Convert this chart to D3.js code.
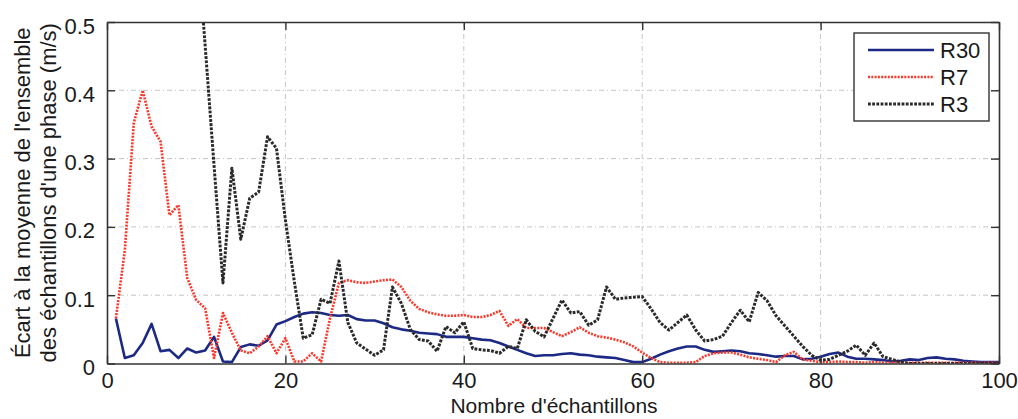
<!DOCTYPE html>
<html>
<head>
<meta charset="utf-8">
<script src="https://cdn.jsdelivr.net/npm/d3@7"></script>
<style>
  html, body { margin: 0; padding: 0; background: #fff; }
  svg { display: block; font-family: "Liberation Sans", Arial, sans-serif; }
</style>
</head>
<body>
<svg id="chart" width="1018" height="419"></svg>
<script>
// ---------- data ----------
const xTicks = [0, 20, 40, 60, 80, 100];
const yTicks = [0, 0.1, 0.2, 0.3, 0.4, 0.5];
const yTickLabels = ["0", "0.1", "0.2", "0.3", "0.4", "0.5"];
const seriesNames = ["R30", "R7", "R3"];

const r30X = d3.range(1, 101);
const r30Y = [
  0.066, 0.008, 0.012, 0.030, 0.058, 0.018, 0.020, 0.008, 0.022, 0.016,
  0.019, 0.039, 0.003, 0.002, 0.024, 0.028, 0.026, 0.034, 0.057, 0.062,
  0.068, 0.073, 0.075, 0.074, 0.071, 0.070, 0.071, 0.065, 0.063, 0.063,
  0.059, 0.053, 0.050, 0.048, 0.045, 0.044, 0.043, 0.039, 0.039, 0.039,
  0.037, 0.035, 0.034, 0.030, 0.025, 0.020, 0.015, 0.011, 0.012, 0.012,
  0.014, 0.015, 0.013, 0.012, 0.010, 0.009, 0.008, 0.005, 0.002, 0.002,
  0.007, 0.013, 0.018, 0.022, 0.025, 0.025, 0.020, 0.017, 0.018, 0.019,
  0.018, 0.015, 0.014, 0.012, 0.010, 0.011, 0.011, 0.006, 0.007, 0.010,
  0.014, 0.016, 0.010, 0.007, 0.007, 0.006, 0.005, 0.003, 0.004, 0.006,
  0.005, 0.008, 0.009, 0.007, 0.006, 0.004, 0.003, 0.002, 0.002, 0.002
];

const r7X = d3.range(1, 101);
const r7Y = [
  0.066, 0.166, 0.352, 0.400, 0.347, 0.325, 0.217, 0.232, 0.125, 0.093,
  0.081, 0.008, 0.074, 0.045, 0.019, 0.015, 0.025, 0.040, 0.015, 0.037,
  0.003, 0.003, 0.015, 0.003, 0.066, 0.118, 0.122, 0.119, 0.118, 0.120,
  0.122, 0.123, 0.112, 0.092, 0.080, 0.075, 0.072, 0.070, 0.070, 0.071,
  0.068, 0.068, 0.071, 0.077, 0.055, 0.065, 0.052, 0.052, 0.052, 0.046,
  0.040, 0.046, 0.053, 0.045, 0.040, 0.038, 0.035, 0.031, 0.025, 0.016,
  0.008, 0.002, 0.001, 0.001, 0.001, 0.002, 0.011, 0.015, 0.016, 0.016,
  0.013, 0.009, 0.007, 0.005, 0.002, 0.012, 0.017, 0.006, 0.004, 0.002,
  0.002, 0.003, 0.002, 0.002, 0.001, 0.002, 0.001, 0.001, 0.001, 0.001,
  0.001, 0.001, 0.001, 0.001, 0.001, 0.001, 0.001, 0.001, 0.001, 0.001
];

const r3X = d3.range(10, 101);
const r3Y = [
  0.640, 0.466, 0.290, 0.118, 0.286, 0.182, 0.242, 0.251, 0.332, 0.315,
  0.210, 0.120, 0.037, 0.042, 0.094, 0.088, 0.150, 0.060, 0.030, 0.021,
  0.012, 0.020, 0.112, 0.088, 0.050, 0.035, 0.033, 0.018, 0.054, 0.045,
  0.061, 0.022, 0.020, 0.019, 0.015, 0.025, 0.022, 0.064, 0.047, 0.039,
  0.066, 0.093, 0.074, 0.076, 0.056, 0.064, 0.112, 0.094, 0.096, 0.097,
  0.098, 0.080, 0.060, 0.049, 0.060, 0.071, 0.049, 0.033, 0.035, 0.040,
  0.060, 0.078, 0.061, 0.104, 0.092, 0.070, 0.055, 0.040, 0.025, 0.012,
  0.005, 0.006, 0.012, 0.018, 0.027, 0.012, 0.030, 0.010, 0.006, 0.002,
  0.000, 0.000, 0.000, 0.000, 0.000, 0.000, 0.000, 0.000, 0.000, 0.000,
  0.000
];

// ---------- layout ----------
const svg = d3.select("#chart");
const M = { left: 107, right: 999, top: 22, bottom: 363.5 };
const x = d3.scaleLinear().domain([0, 100]).range([M.left, M.right]);
const y = d3.scaleLinear().domain([0, 0.5]).range([M.bottom, M.top]);
const FS = 22;

const series = [
  { name: seriesNames[0], xs: r30X, ys: r30Y, color: "#1c2a86", width: 2.6, dash: null },
  { name: seriesNames[1], xs: r7X,  ys: r7Y,  color: "#ff3527", width: 2.6, dash: "2,1.3" },
  { name: seriesNames[2], xs: r3X,  ys: r3Y,  color: "#2a2a2a", width: 3.0, dash: "2.8,1.4" }
];

svg.append("defs").append("clipPath").attr("id", "clip")
  .append("rect").attr("x", M.left).attr("y", M.top)
  .attr("width", M.right - M.left).attr("height", M.bottom - M.top);

// grid
const grid = svg.append("g").attr("stroke", "#bdbdbd").attr("stroke-width", 0.9)
  .attr("stroke-dasharray", "5,3,1,3");
grid.selectAll("line.gx").data(xTicks.slice(1, -1)).join("line")
  .attr("x1", d => x(d)).attr("x2", d => x(d)).attr("y1", M.top).attr("y2", M.bottom);
grid.selectAll("line.gy").data(yTicks.slice(1, -1)).join("line")
  .attr("x1", M.left).attr("x2", M.right).attr("y1", d => y(d)).attr("y2", d => y(d));

// lines
const plot = svg.append("g").attr("clip-path", "url(#clip)");
series.forEach(s => {
  const pts = s.xs.map((xv, i) => [xv, s.ys[i]]);
  plot.append("path")
    .attr("d", d3.line().x(d => x(d[0])).y(d => y(d[1]))(pts))
    .attr("fill", "none")
    .attr("stroke", s.color)
    .attr("stroke-width", s.width)
    .attr("stroke-linejoin", "round")
    .attr("stroke-dasharray", s.dash);
});

// axes (MATLAB-style box with inward ticks)
const axisColor = "#333";
const tickLen = 8;
const xAxisB = d3.axisBottom(x).tickValues(xTicks).tickSizeInner(-tickLen).tickSizeOuter(0).tickPadding(9);
const xAxisT = d3.axisTop(x).tickValues(xTicks).tickSizeInner(-tickLen).tickSizeOuter(0).tickFormat("");
const yAxisL = d3.axisLeft(y).tickValues(yTicks).tickSizeInner(-tickLen).tickSizeOuter(0)
  .tickPadding(12).tickFormat((d, i) => yTickLabels[i]);
const yAxisR = d3.axisRight(y).tickValues(yTicks).tickSizeInner(-tickLen).tickSizeOuter(0).tickFormat("");

function styleAxis(g) {
  g.select(".domain").attr("stroke", axisColor).attr("stroke-width", 1.6);
  g.selectAll(".tick line").attr("stroke", axisColor).attr("stroke-width", 1.4);
  g.selectAll(".tick text").attr("fill", "#1a1a1a").attr("font-size", FS)
    .attr("font-family", "'Liberation Sans', Arial, sans-serif");
}
svg.append("g").attr("transform", `translate(0,${M.bottom})`).call(xAxisB).call(styleAxis);
svg.append("g").attr("transform", `translate(0,${M.top})`).call(xAxisT).call(styleAxis);
svg.append("g").attr("transform", `translate(${M.left},0)`).call(yAxisL).call(styleAxis)
  .selectAll(".tick text").attr("dy", "0.5em");
svg.append("g").attr("transform", `translate(${M.right},0)`).call(yAxisR).call(styleAxis);

// axis titles
svg.append("text")
  .attr("x", (M.left + M.right) / 2 + 1).attr("y", 413)
  .attr("text-anchor", "middle").attr("font-size", 21).attr("fill", "#1a1a1a")
  .text("Nombre d'échantillons");

const yt = svg.append("text")
  .attr("transform", `translate(30,${(M.top + M.bottom) / 2}) rotate(-90)`)
  .attr("text-anchor", "middle").attr("font-size", FS).attr("fill", "#1a1a1a");
yt.append("tspan").attr("x", 0).attr("y", 0).text("Écart à la moyenne de l'ensemble");
yt.append("tspan").attr("x", 0).attr("y", 25.5).text("des échantillons d'une phase (m/s)");

// legend
const lg = svg.append("g");
lg.append("rect").attr("x", 854).attr("y", 33).attr("width", 135).attr("height", 88)
  .attr("fill", "#fff").attr("stroke", "#333").attr("stroke-width", 1.4);
series.forEach((s, i) => {
  const ry = 50 + i * 27;
  lg.append("line").attr("x1", 868).attr("x2", 934).attr("y1", ry).attr("y2", ry)
    .attr("stroke", s.color).attr("stroke-width", s.width).attr("stroke-dasharray", s.dash);
  lg.append("text").attr("x", 940).attr("y", ry + 8).attr("font-size", FS).attr("fill", "#1a1a1a")
    .text(s.name);
});
</script>
</body>
</html>
